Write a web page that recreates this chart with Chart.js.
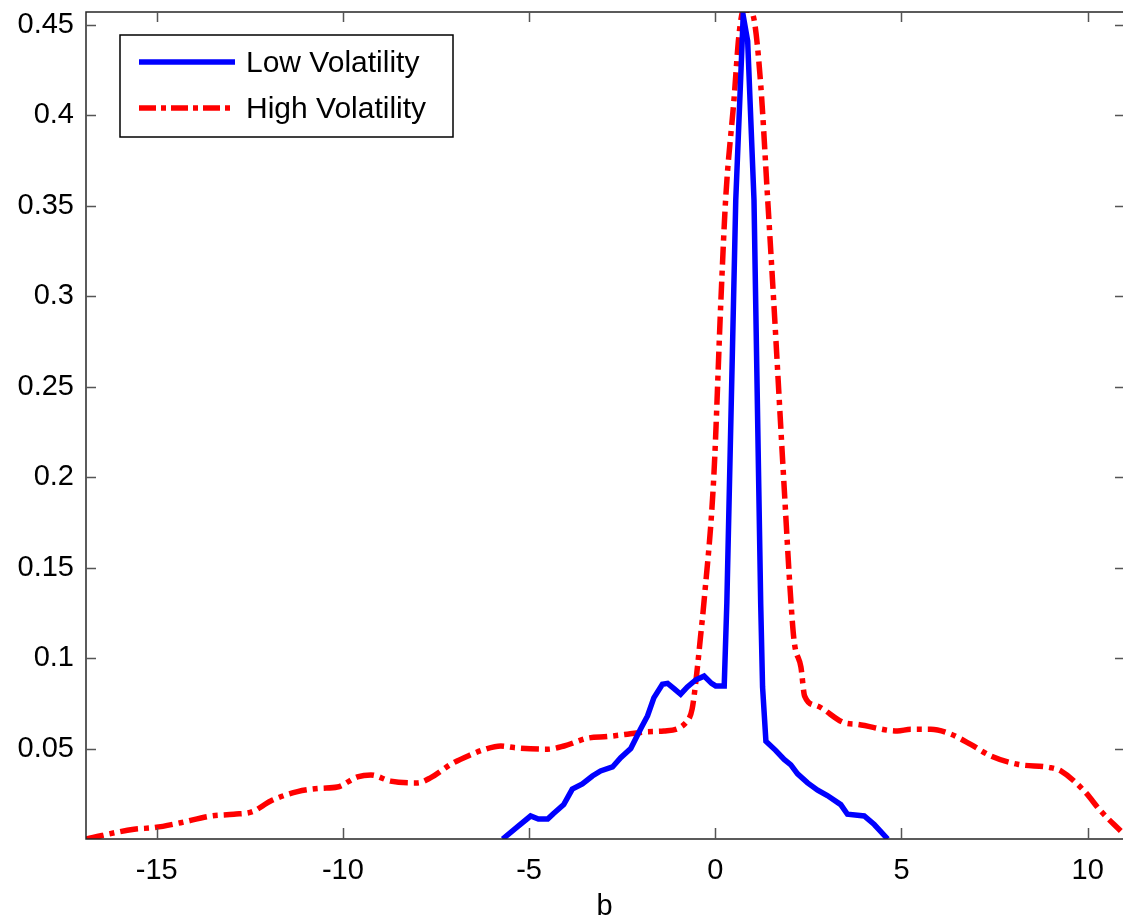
<!DOCTYPE html>
<html lang="en">

<head>
    <meta charset="UTF-8">
    <title>Low vs High Volatility</title>
    <script src="https://cdn.jsdelivr.net/npm/chart.js@4.4.1/dist/chart.umd.min.js"></script>
    <style>
        body { margin: 0; background: #fff; }
        #wrap { width: 1123px; height: 921px; }
    </style>
</head>

<body>
    <div id="wrap">
        <canvas id="densityChart" width="1123" height="921"></canvas>
    </div>

    <script>
        // values
        const lowX = [-5.71, -5.3, -4.96, -4.75, -4.5, -4.35, -4.07, -3.84, -3.57, -3.3, -3.08, -2.76, -2.54, -2.27, -2.0, -1.82, -1.65, -1.42, -1.28, -1.1, -0.93, -0.75, -0.52, -0.3, -0.1, 0.01, 0.24, 0.31, 0.55, 0.75, 0.87, 1.04, 1.22, 1.27, 1.36, 1.62, 1.85, 2.03, 2.21, 2.48, 2.75, 3.01, 3.37, 3.55, 4.0, 4.27, 4.63];
        const lowY = [0, 0.007, 0.0127, 0.011, 0.011, 0.014, 0.019, 0.0276, 0.0304, 0.0348, 0.0376, 0.0398, 0.0449, 0.05, 0.061, 0.068, 0.078, 0.0855, 0.086, 0.083, 0.08, 0.084, 0.088, 0.09, 0.086, 0.0846, 0.0846, 0.13, 0.353, 0.455, 0.441, 0.353, 0.13, 0.084, 0.054, 0.049, 0.044, 0.041, 0.036, 0.031, 0.027, 0.024, 0.019, 0.0137, 0.0127, 0.008, 0];

        const highX = [-16.9, -15.61, -15.07, -14.36, -13.55, -12.93, -12.43, -11.94, -11.22, -10.6, -10.15, -9.61, -9.25, -8.72, -8.0, -7.64, -7.1, -6.61, -6.2, -5.76, -5.4, -4.51, -4.06, -3.43, -2.9, -2.36, -1.82, -1.38, -0.75, -0.62, -0.52, -0.39, -0.3, -0.04, 0.15, 0.28, 0.5, 0.64, 0.76, 0.9, 1.04, 1.22, 1.4, 1.57, 1.84, 2.03, 2.12, 2.3, 2.4, 2.74, 3.46, 3.82, 4.89, 5.25, 5.79, 6.33, 6.86, 7.4, 8.12, 9.01, 9.28, 9.91, 10.35, 10.89];
        const highY = [0, 0.0054, 0.0063, 0.009, 0.0127, 0.0137, 0.0151, 0.021, 0.0262, 0.028, 0.0287, 0.0343, 0.0354, 0.032, 0.031, 0.0339, 0.0413, 0.0462, 0.0495, 0.0514, 0.0505, 0.0496, 0.0514, 0.0557, 0.0566, 0.0579, 0.0593, 0.0597, 0.0652, 0.072, 0.0873, 0.113, 0.1316, 0.2, 0.297, 0.354, 0.408, 0.445, 0.458, 0.458, 0.453, 0.417, 0.356, 0.297, 0.198, 0.1316, 0.109, 0.095, 0.079, 0.0735, 0.0643, 0.0634, 0.0597, 0.0606, 0.0606, 0.0579, 0.0523, 0.0459, 0.0413, 0.0394, 0.0376, 0.0265, 0.0155, 0.0044];

        const seriesLabels = ['Low Volatility', 'High Volatility'];
        const xTicks = [-15, -10, -5, 0, 5, 10];
        const yTicks = [0.05, 0.1, 0.15, 0.2, 0.25, 0.3, 0.35, 0.4, 0.45];

        const FONT = '"Liberation Sans", Arial, Helvetica, sans-serif';
        const AXIS_COLOR = '#262626';
        const RED_DASH = [18, 6, 5, 6];

        const toPoints = (xs, ys) => xs.map((x, i) => ({ x: x, y: ys[i] }));

        // MATLAB-style box: top/left/bottom lines, inward ticks, legend inside
        const matlabFrame = {
            id: 'matlabFrame',
            afterDraw(chart) {
                const { ctx, chartArea: a, scales } = chart;
                ctx.save();
                ctx.strokeStyle = AXIS_COLOR;
                ctx.lineWidth = 1.5;
                ctx.beginPath();
                ctx.moveTo(a.right, a.top);
                ctx.lineTo(a.left, a.top);
                ctx.lineTo(a.left, a.bottom);
                ctx.lineTo(a.right, a.bottom);
                ctx.stroke();

                ctx.strokeStyle = '#555';
                ctx.lineWidth = 1.5;
                ctx.beginPath();
                xTicks.forEach(v => {
                    const px = Math.round(scales.x.getPixelForValue(v)) + 0.5;
                    ctx.moveTo(px, a.bottom);
                    ctx.lineTo(px, a.bottom - 11);
                    ctx.moveTo(px, a.top);
                    ctx.lineTo(px, a.top + 10);
                });
                yTicks.forEach(v => {
                    const py = Math.round(scales.y.getPixelForValue(v)) + 0.5;
                    ctx.moveTo(a.left, py);
                    ctx.lineTo(a.left + 10, py);
                    ctx.moveTo(a.right + 1, py);
                    ctx.lineTo(a.right - 8, py);
                });
                ctx.stroke();

                // legend box
                const box = { x: 120, y: 35, w: 333, h: 102 };
                ctx.fillStyle = '#fff';
                ctx.fillRect(box.x, box.y, box.w, box.h);
                ctx.strokeStyle = '#000';
                ctx.lineWidth = 1.5;
                ctx.strokeRect(box.x, box.y, box.w, box.h);

                const rows = [62, 108];
                chart.data.datasets.forEach((ds, i) => {
                    ctx.strokeStyle = ds.borderColor;
                    ctx.lineWidth = ds.borderWidth;
                    ctx.setLineDash(ds.borderDash ? [17, 5, 5, 5] : []);
                    ctx.beginPath();
                    ctx.moveTo(139, rows[i]);
                    ctx.lineTo(235, rows[i]);
                    ctx.stroke();
                    ctx.setLineDash([]);
                    ctx.fillStyle = '#000';
                    ctx.font = '30px ' + FONT;
                    ctx.textBaseline = 'middle';
                    ctx.textAlign = 'left';
                    ctx.fillText(ds.label, 246, rows[i] + 2);
                });
                ctx.restore();
            }
        };

        new Chart(document.getElementById('densityChart'), {
            type: 'line',
            data: {
                datasets: [{
                    label: seriesLabels[0],
                    data: toPoints(lowX, lowY),
                    borderColor: '#0000ff',
                    borderWidth: 5.5,
                    pointRadius: 0,
                    tension: 0,
                }, {
                    label: seriesLabels[1],
                    data: toPoints(highX, highY),
                    borderColor: '#ff0000',
                    borderWidth: 5.5,
                    borderDash: RED_DASH,
                    pointRadius: 0,
                    cubicInterpolationMode: 'monotone',
                }],
            },
            options: {
                responsive: false,
                animation: false,
                layout: { padding: { top: 12, right: 0, bottom: 0, left: 0 } },
                plugins: {
                    legend: { display: false },
                    tooltip: { enabled: false },
                },
                scales: {
                    x: {
                        type: 'linear',
                        min: -16.9,
                        max: 10.95,
                        grid: { display: false, drawTicks: false },
                        border: { display: false },
                        afterBuildTicks: (scale) => { scale.ticks = xTicks.map(v => ({ value: v })); },
                        afterFit: (scale) => {
                            scale.height = 82;
                            scale.paddingLeft = 0;
                            scale.paddingRight = 0;
                        },
                        ticks: {
                            padding: 15,
                            color: '#000',
                            maxRotation: 0,
                            font: { family: FONT, size: 29 },
                            callback: (v) => String(v),
                        },
                        title: {
                            display: true,
                            text: 'b',
                            color: '#000',
                            padding: { top: 0, bottom: 0 },
                            font: { family: FONT, size: 29, lineHeight: 1 },
                        },
                    },
                    y: {
                        type: 'linear',
                        min: 0,
                        max: 0.457,
                        grid: { display: false, drawTicks: false },
                        border: { display: false },
                        afterBuildTicks: (scale) => { scale.ticks = yTicks.map(v => ({ value: v })); },
                        afterFit: (scale) => {
                            scale.width = 86;
                            scale.paddingTop = 0;
                            scale.paddingBottom = 0;
                        },
                        ticks: {
                            padding: 12,
                            color: '#000',
                            font: { family: FONT, size: 29 },
                            callback: (v) => String(v),
                        },
                    },
                },
            },
            plugins: [matlabFrame],
        });
    </script>
</body>

</html>
